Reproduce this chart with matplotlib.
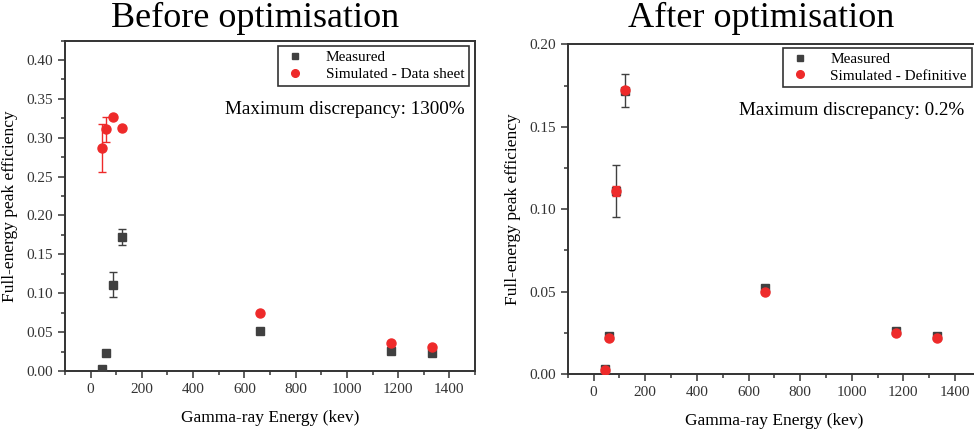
import matplotlib
matplotlib.use("Agg")
import matplotlib.pyplot as plt
from matplotlib.ticker import MultipleLocator, FormatStrFormatter
from matplotlib.lines import Line2D

# Data
energy = [45, 59, 88, 122, 662, 1173, 1332]
measured = [0.003, 0.023, 0.111, 0.172, 0.052, 0.026, 0.0228]
measured_err = [0.0, 0.0, 0.016, 0.010, 0.0, 0.0, 0.0]
sim_datasheet = [0.287, 0.311, 0.327, 0.313, 0.075, 0.036, 0.031]
sim_datasheet_err = [0.031, 0.016, 0.0, 0.0, 0.0, 0.0, 0.0]
sim_definitive = [0.0024, 0.022, 0.111, 0.1723, 0.050, 0.0247, 0.0216]
sim_definitive_err = [0.0, 0.0, 0.003, 0.0, 0.0, 0.0, 0.0]

titles = ["Before optimisation", "After optimisation"]
legend_labels = [["Measured", "Simulated - Data sheet"], ["Measured", "Simulated - Definitive"]]
notes = ["Maximum discrepancy: 1300%", "Maximum discrepancy: 0.2%"]
xlabel = "Gamma-ray Energy (kev)"
ylabel = "Full-energy peak efficiency"

serif = ["Liberation Serif", "DejaVu Serif"]
plt.rcParams['font.family'] = serif

fig = plt.figure(figsize=(9.74, 4.32), dpi=100)
ax1 = fig.add_axes([0.0667, 0.1412, 0.4210, 0.7650])
ax2 = fig.add_axes([0.5830, 0.1343, 0.4240, 0.7630])

sq_color = "#404040"
red = "#ee2a2a"


def plot_series(ax, y, err, fmt, color, ms, z):
    ax.plot(energy, y, fmt, color=color, ms=ms, zorder=z, linestyle='none')
    xs = [x for x, e in zip(energy, err) if e > 0]
    ys = [v for v, e in zip(y, err) if e > 0]
    es = [e for e in err if e > 0]
    if xs:
        ax.errorbar(xs, ys, yerr=es, fmt='none', ecolor=color, capsize=3,
                    elinewidth=1, capthick=1, zorder=z)


def draw(ax, sim, sim_err, ylim, idx, title_x, leg_anchor, note_pos):
    plot_series(ax, measured, measured_err, 's', sq_color, 6, 3)
    plot_series(ax, sim, sim_err, 'o', red, 6.5, 4)
    ax.set_xlim(-100, 1500)
    ax.set_ylim(*ylim)
    ax.xaxis.set_major_locator(MultipleLocator(200))
    ax.xaxis.set_minor_locator(MultipleLocator(100))
    ax.yaxis.set_major_locator(MultipleLocator(0.05))
    ax.yaxis.set_minor_locator(MultipleLocator(0.025))
    ax.yaxis.set_major_formatter(FormatStrFormatter('%.2f'))
    ax.tick_params(which='major', direction='out', length=5, width=1.1, labelsize=11, colors='#333333')
    ax.tick_params(which='minor', direction='out', length=3, width=1.1, colors='#333333')
    for s in ax.spines.values():
        s.set_linewidth(1.4)
        s.set_color('#333333')
    ax.set_xlabel(xlabel, fontsize=12.5, labelpad=10)
    ax.set_ylabel(ylabel, fontsize=12.5, labelpad=6)
    fig.text(title_x, 0.958, titles[idx], fontsize=26, ha='center', va='center')
    handles = [Line2D([], [], marker='s', color=sq_color, ms=5, linestyle='none'),
               Line2D([], [], marker='o', color=red, ms=5.5, linestyle='none')]
    leg = ax.legend(handles, legend_labels[idx], loc='upper right', fontsize=11, frameon=True,
                    fancybox=False, edgecolor='black', handletextpad=1.2, borderpad=0.3,
                    labelspacing=0.2, handlelength=1.6, borderaxespad=0,
                    bbox_to_anchor=leg_anchor)
    leg.get_frame().set_linewidth(1.2)
    ax.text(note_pos[0], note_pos[1], notes[idx], transform=ax.transAxes,
            ha='right', va='center', fontsize=13.8)


draw(ax1, sim_datasheet, sim_datasheet_err, (0, 0.425), 0, 255 / 974,
     (0.985, 0.983), (0.975, 0.79))
draw(ax2, sim_definitive, sim_definitive_err, (0, 0.20), 1, 761 / 974,
     (0.9775, 0.99), (0.96, 0.80))

fig.savefig("out.png", dpi=100)
